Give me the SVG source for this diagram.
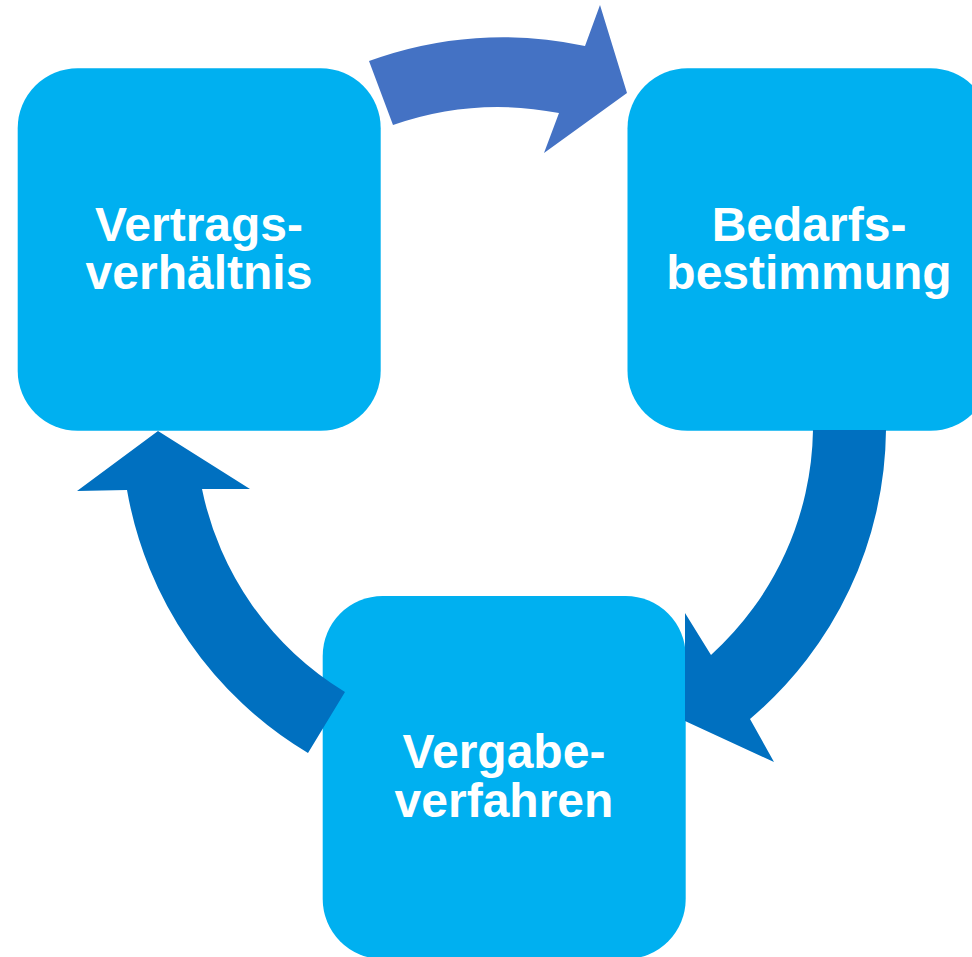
<svg xmlns="http://www.w3.org/2000/svg" width="972" height="957" viewBox="0 0 972 957">
  <style>
    .box { fill: #00B0F0; }
    .lbl { fill: #FFFFFF; font-family: "Liberation Sans", Arial, sans-serif; font-weight: bold; font-size: 48px; text-anchor: middle; }
    .arr { fill: #0070C0; }
    .arr-top { fill: #4472C4; }
  </style>
  <rect width="972" height="957" fill="#FFFFFF"/>
  <g id="node-bedarfsbestimmung">
    <rect class="box" x="627.5" y="68.3" width="363" height="362.5" rx="60" ry="60"/>
    <text class="lbl" x="809" y="241">Bedarfs-</text>
    <text class="lbl" x="809" y="289">bestimmung</text>
  </g>
  <g id="node-vergabeverfahren">
    <rect class="box" x="322.7" y="596" width="363" height="363" rx="60" ry="60"/>
    <text class="lbl" x="504" y="768">Vergabe-</text>
    <text class="lbl" x="504" y="817">verfahren</text>
  </g>
  <g id="node-vertragsverhaeltnis">
    <rect class="box" x="17.7" y="68.3" width="363" height="362.5" rx="60" ry="60"/>
    <text class="lbl" x="199" y="241">Vertrags-</text>
    <text class="lbl" x="199" y="289">verhältnis</text>
  </g>
  <g id="connectors">
    <path class="arr-top" d="M 369,61 A 388 388 0 0 1 585,46 L 600,5 L 627,93 L 544,153 L 559,113 A 318 318 0 0 0 393,125 Z"/>
    <path class="arr" d="M 886,430 A 383 383 0 0 1 750,719 L 774,762 L 685,721 L 685,613 L 711,655 A 310 310 0 0 0 813,430 Z"/>
    <path class="arr" d="M 308,753 A 383 383 0 0 1 127,490 L 77,491 L 158,431 L 250,489 L 202,489 A 310 310 0 0 0 345,692 Z"/>
  </g>
</svg>
